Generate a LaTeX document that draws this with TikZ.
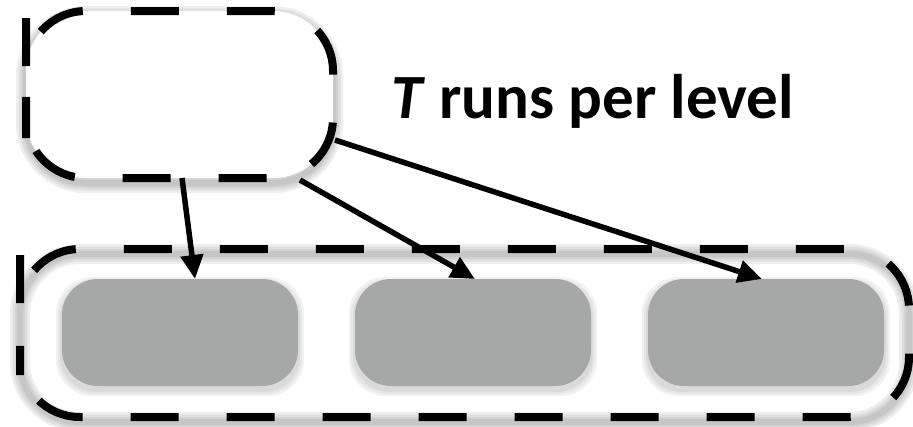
\documentclass[tikz,border=0pt]{standalone}
\usepackage{fontspec}
\setmainfont{Carlito}
\usetikzlibrary{arrows.meta,calc,backgrounds}
\definecolor{boxgray}{HTML}{A5A8A6}
\tikzset{
 holder/.style={outer sep=0pt, inner sep=0pt},
 dashline/.style={draw=black, line width=8pt, dash pattern=on 48pt off 48pt, rounded corners=60pt},
 runbox/.style={fill=boxgray, rounded corners=36pt, minimum width=236pt, minimum height=107pt, outer sep=0pt, inner sep=0pt},
 arr/.style={line width=5.5pt, -{Triangle[length=24pt,width=22pt]}},
 glow/.style={line width=#1, draw=black!60, opacity=0.11, rounded corners=60pt},
 softshadow/.style={fill=black, opacity=0.05},
}
\begin{document}
\begin{tikzpicture}[x=1pt,y=-1pt]
\useasboundingbox (0,0) rectangle (913,426);
% placeholders for the two dashed groups
\node[holder, minimum width=307pt, minimum height=167pt] (src) at (179.5,94.5) {};
\node[holder, minimum width=889pt, minimum height=168pt] (lvl) at (464.5,333) {};
% dashed outlines
\draw[dashline, fill=white] ($(src.west)+(0,-16.5)$) -- (src.north west) -- (src.north east) -- (src.south east) -- (src.south west) -- cycle;
\draw[dashline] ($(lvl.west)+(0,-18)$) -- (lvl.north west) -- (lvl.north east) -- (lvl.south east) -- (lvl.south west) -- cycle;
% run boxes
\node[runbox] (r1) at (180,332.5) {};
\node[runbox] (r2) at (473,332.5) {};
\node[runbox] (r3) at (766,332.5) {};
% label
\node[anchor=base west, inner sep=0pt, font=\bfseries\fontsize{63}{76}\selectfont] (lbl) at (391,118) {\textit{T} runs per level};
% arrows
\draw[arr] ($(src.south)+(2.5,0)$) -- ($(r1.north)+(15,0)$);
\draw[arr] ($(src.south east)+(-33,2)$) -- ($(r2.north)+(2,0)$);
\draw[arr] ($(src.east)+(2,45.5)$) -- ($(r3.north)+(-4,0)$);
% shadows / glow
\begin{scope}[on background layer]
 \foreach \w in {20,15,10,6}{
  \draw[glow=\w pt] ($(src.north west)+(0,5)$) rectangle ($(src.south east)+(0,5)$);
  \draw[glow=\w pt] ($(lvl.north west)+(0,5)$) rectangle ($(lvl.south east)+(0,5)$);
 }
 \foreach \n in {r1,r2,r3}{
  \foreach \e in {6,4,2}{
   \fill[softshadow, rounded corners=36pt] ($(\n.north west)+(-\e,4-\e)$) rectangle ($(\n.south east)+(\e,4+\e)$);
  }
 }
\end{scope}
\end{tikzpicture}
\end{document}
